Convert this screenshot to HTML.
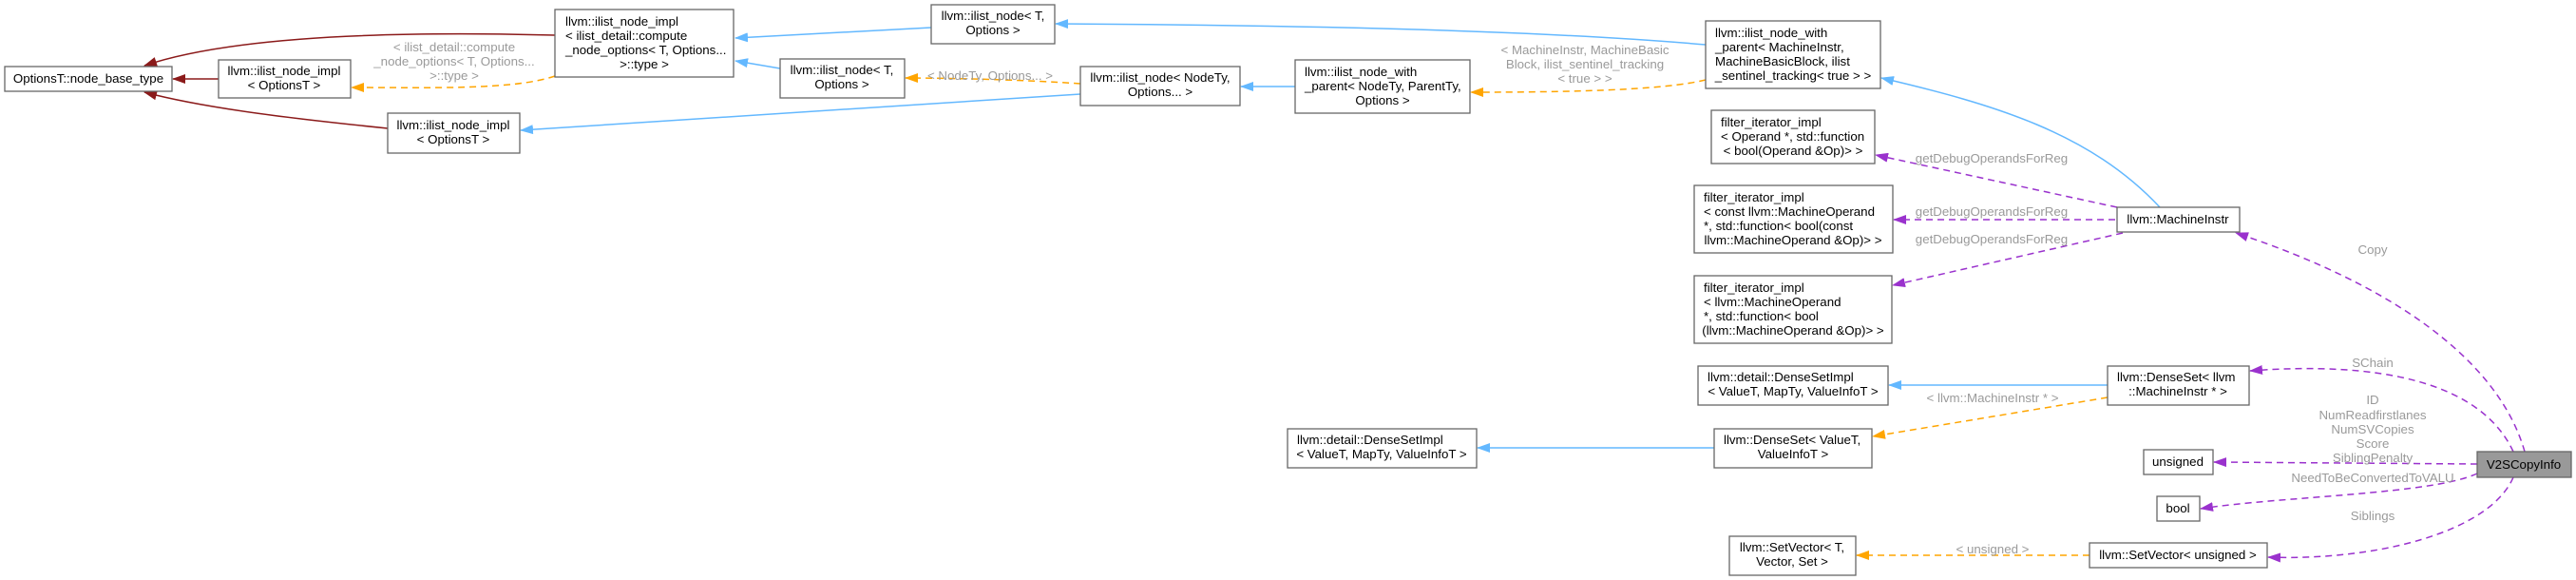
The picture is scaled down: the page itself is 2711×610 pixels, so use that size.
<!DOCTYPE html>
<html><head><meta charset="utf-8"><style>
html,body{margin:0;padding:0;background:#fff;}
svg{display:block;}
text{font-family:"Liberation Sans",Arial,sans-serif;font-size:13.3px;fill:#000;}
.l{fill:#9a9a9a;text-anchor:middle;}
.n{text-anchor:middle;}
rect{fill:#fff;stroke:#666;stroke-width:1.3;}
.e{fill:none;stroke-width:1.5;}
</style></head><body>
<svg width="2711" height="610" viewBox="0 0 2711 610" xmlns="http://www.w3.org/2000/svg">
<defs>
<marker id="mr" markerWidth="14" markerHeight="10" refX="13" refY="5" orient="auto" markerUnits="userSpaceOnUse"><path d="M0,0 L14,5 L0,10 z" fill="#8b1a1a"/></marker>
<marker id="mb" markerWidth="14" markerHeight="10" refX="13" refY="5" orient="auto" markerUnits="userSpaceOnUse"><path d="M0,0 L14,5 L0,10 z" fill="#63b8ff"/></marker>
<marker id="mo" markerWidth="14" markerHeight="10" refX="13" refY="5" orient="auto" markerUnits="userSpaceOnUse"><path d="M0,0 L14,5 L0,10 z" fill="#ffa500"/></marker>
<marker id="mp" markerWidth="14" markerHeight="10" refX="13" refY="5" orient="auto" markerUnits="userSpaceOnUse"><path d="M0,0 L14,5 L0,10 z" fill="#9a32cd"/></marker>
</defs>

<!-- edges -->
<path class="e" stroke="#8b1a1a" marker-end="url(#mr)" d="M584,37 C430,33 250,36 152,69"/>
<path class="e" stroke="#8b1a1a" marker-end="url(#mr)" d="M230,83 L182,83"/>
<path class="e" stroke="#8b1a1a" marker-end="url(#mr)" d="M408,135 C320,126 220,115 152,97"/>
<path class="e" stroke="#ffa500" stroke-dasharray="7,5" marker-end="url(#mo)" d="M584,80 C540,95 450,92 370,92"/>
<path class="e" stroke="#63b8ff" marker-end="url(#mb)" d="M980,29 L774,40"/>
<path class="e" stroke="#63b8ff" marker-end="url(#mb)" d="M821,72 L774,64"/>
<path class="e" stroke="#63b8ff" marker-end="url(#mb)" d="M1137,99 L548,137"/>
<path class="e" stroke="#ffa500" stroke-dasharray="7,5" marker-end="url(#mo)" d="M1137,88 C1080,84 1000,82 953,82"/>
<path class="e" stroke="#63b8ff" marker-end="url(#mb)" d="M1363,91 L1306,91"/>
<path class="e" stroke="#63b8ff" marker-end="url(#mb)" d="M1795,47 C1600,30 1300,26 1111,25"/>
<path class="e" stroke="#ffa500" stroke-dasharray="7,5" marker-end="url(#mo)" d="M1795,84 C1750,95 1650,97 1548,97"/>
<path class="e" stroke="#63b8ff" marker-end="url(#mb)" d="M2273,218 C2200,140 2100,110 1980,82"/>
<path class="e" stroke="#9a32cd" stroke-dasharray="7,5" marker-end="url(#mp)" d="M2228,218 L1974,163"/>
<path class="e" stroke="#9a32cd" stroke-dasharray="7,5" marker-end="url(#mp)" d="M2226,231 L1993,231"/>
<path class="e" stroke="#9a32cd" stroke-dasharray="7,5" marker-end="url(#mp)" d="M2234,245 L1992,300"/>
<path class="e" stroke="#63b8ff" marker-end="url(#mb)" d="M2218,405 L1988,405"/>
<path class="e" stroke="#ffa500" stroke-dasharray="7,5" marker-end="url(#mo)" d="M2218,418 L1971,459"/>
<path class="e" stroke="#63b8ff" marker-end="url(#mb)" d="M1804,471 L1555,471"/>
<path class="e" stroke="#ffa500" stroke-dasharray="7,5" marker-end="url(#mo)" d="M2199,584 L1954,584"/>
<path class="e" stroke="#9a32cd" stroke-dasharray="7,5" marker-end="url(#mp)" d="M2657,475 C2630,380 2520,300 2353,245"/>
<path class="e" stroke="#9a32cd" stroke-dasharray="7,5" marker-end="url(#mp)" d="M2645,475 C2610,400 2500,380 2368,390"/>
<path class="e" stroke="#9a32cd" stroke-dasharray="7,5" marker-end="url(#mp)" d="M2607,488 L2330,486"/>
<path class="e" stroke="#9a32cd" stroke-dasharray="7,5" marker-end="url(#mp)" d="M2607,498 C2560,520 2400,522 2316,535"/>
<path class="e" stroke="#9a32cd" stroke-dasharray="7,5" marker-end="url(#mp)" d="M2645,502 C2620,560 2500,590 2387,586"/>

<!-- edge labels -->
<text class="l" x="478" y="54">&lt; ilist_detail::compute</text>
<text class="l" x="478" y="69">_node_options&lt; T, Options...</text>
<text class="l" x="478" y="84">&gt;::type &gt;</text>
<text class="l" x="1042" y="84">&lt; NodeTy, Options... &gt;</text>
<text class="l" x="1668" y="57">&lt; MachineInstr, MachineBasic</text>
<text class="l" x="1668" y="72">Block, ilist_sentinel_tracking</text>
<text class="l" x="1668" y="87">&lt; true &gt; &gt;</text>
<text class="l" x="2096" y="171">getDebugOperandsForReg</text>
<text class="l" x="2096" y="227">getDebugOperandsForReg</text>
<text class="l" x="2096" y="256">getDebugOperandsForReg</text>
<text class="l" x="2497" y="267">Copy</text>
<text class="l" x="2497" y="386">SChain</text>
<text class="l" x="2497" y="425">ID</text>
<text class="l" x="2497" y="441">NumReadfirstlanes</text>
<text class="l" x="2497" y="456">NumSVCopies</text>
<text class="l" x="2497" y="471">Score</text>
<text class="l" x="2497" y="486">SiblingPenalty</text>
<text class="l" x="2497" y="507">NeedToBeConvertedToVALU</text>
<text class="l" x="2497" y="547">Siblings</text>
<text class="l" x="2097" y="423">&lt; llvm::MachineInstr * &gt;</text>
<text class="l" x="2097" y="582">&lt; unsigned &gt;</text>

<!-- nodes -->
<rect x="5" y="70" width="176" height="26"/><text class="n" x="93" y="87">OptionsT::node_base_type</text>
<rect x="230" y="63" width="139" height="40"/><text class="n" x="299" y="79">llvm::ilist_node_impl</text><text class="n" x="299" y="94">&lt; OptionsT &gt;</text>
<rect x="584" y="10" width="188" height="71"/><text x="595" y="27">llvm::ilist_node_impl</text><text x="595" y="42">&lt; ilist_detail::compute</text><text x="595" y="57">_node_options&lt; T, Options...</text><text class="n" x="678" y="72">&gt;::type &gt;</text>
<rect x="408" y="119" width="139" height="42"/><text class="n" x="477" y="136">llvm::ilist_node_impl</text><text class="n" x="477" y="151">&lt; OptionsT &gt;</text>
<rect x="821" y="62" width="131" height="41"/><text class="n" x="886" y="78">llvm::ilist_node&lt; T,</text><text class="n" x="886" y="93">Options &gt;</text>
<rect x="980" y="5" width="130" height="41"/><text class="n" x="1045" y="21">llvm::ilist_node&lt; T,</text><text class="n" x="1045" y="36">Options &gt;</text>
<rect x="1137" y="70" width="168" height="41"/><text class="n" x="1221" y="86">llvm::ilist_node&lt; NodeTy,</text><text class="n" x="1221" y="101">Options... &gt;</text>
<rect x="1363" y="63" width="184" height="56"/><text x="1373" y="80">llvm::ilist_node_with</text><text x="1373" y="95">_parent&lt; NodeTy, ParentTy,</text><text class="n" x="1455" y="110">Options &gt;</text>
<rect x="1795" y="22" width="184" height="71"/><text x="1805" y="39">llvm::ilist_node_with</text><text x="1805" y="54">_parent&lt; MachineInstr,</text><text x="1805" y="69">MachineBasicBlock, ilist</text><text class="n" x="1887" y="84">_sentinel_tracking&lt; true &gt; &gt;</text>
<rect x="1801" y="116" width="172" height="56"/><text x="1811" y="133">filter_iterator_impl</text><text x="1811" y="148">&lt; Operand *, std::function</text><text class="n" x="1887" y="163">&lt; bool(Operand &amp;Op)&gt; &gt;</text>
<rect x="1783" y="195" width="209" height="71"/><text x="1793" y="212">filter_iterator_impl</text><text x="1793" y="227">&lt; const llvm::MachineOperand</text><text x="1793" y="242"> *, std::function&lt; bool(const</text><text class="n" x="1887" y="257">llvm::MachineOperand &amp;Op)&gt; &gt;</text>
<rect x="1783" y="290" width="208" height="71"/><text x="1793" y="307">filter_iterator_impl</text><text x="1793" y="322">&lt; llvm::MachineOperand</text><text x="1793" y="337"> *, std::function&lt; bool</text><text class="n" x="1887" y="352">(llvm::MachineOperand &amp;Op)&gt; &gt;</text>
<rect x="2228" y="218" width="129" height="26"/><text class="n" x="2292" y="235">llvm::MachineInstr</text>
<rect x="1787" y="385" width="200" height="41"/><text x="1797" y="401">llvm::detail::DenseSetImpl</text><text class="n" x="1887" y="416">&lt; ValueT, MapTy, ValueInfoT &gt;</text>
<rect x="2218" y="385" width="149" height="41"/><text x="2228" y="401">llvm::DenseSet&lt; llvm</text><text class="n" x="2292" y="416">::MachineInstr * &gt;</text>
<rect x="1355" y="451" width="199" height="41"/><text x="1365" y="467">llvm::detail::DenseSetImpl</text><text class="n" x="1454" y="482">&lt; ValueT, MapTy, ValueInfoT &gt;</text>
<rect x="1804" y="451" width="166" height="41"/><text x="1814" y="467">llvm::DenseSet&lt; ValueT,</text><text class="n" x="1887" y="482">ValueInfoT &gt;</text>
<rect x="2256" y="473" width="73" height="26"/><text class="n" x="2292" y="490">unsigned</text>
<rect x="2270" y="522" width="45" height="26"/><text class="n" x="2292" y="539">bool</text>
<rect x="1820" y="564" width="133" height="41"/><text class="n" x="1886" y="580">llvm::SetVector&lt; T,</text><text class="n" x="1886" y="595">Vector, Set &gt;</text>
<rect x="2199" y="571" width="187" height="26"/><text class="n" x="2292" y="588">llvm::SetVector&lt; unsigned &gt;</text>
<rect x="2607" y="475" width="99" height="27" style="fill:#999;stroke:#666"/><text class="n" x="2656" y="493">V2SCopyInfo</text>
</svg>
</body></html>
